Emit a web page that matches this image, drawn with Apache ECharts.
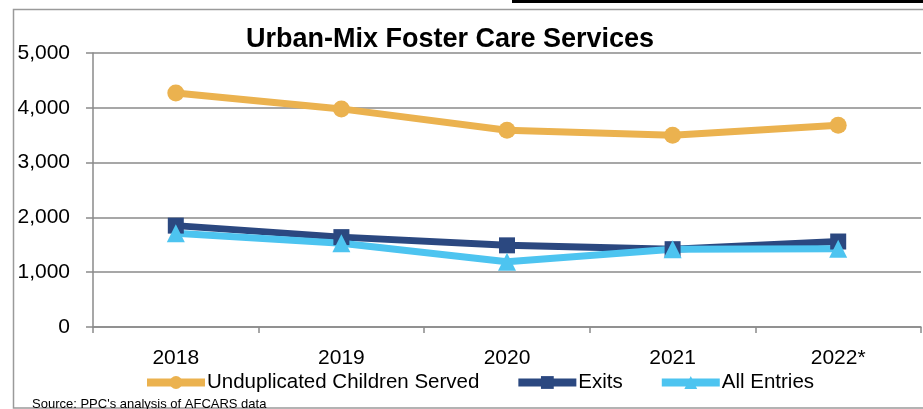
<!DOCTYPE html>
<html>
<head>
<meta charset="utf-8">
<script src="https://cdn.jsdelivr.net/npm/echarts@6/dist/echarts.min.js"></script>
<style>
html,body{margin:0;padding:0;background:#fff;}
#chart{width:923px;height:409px;}
</style>
</head>
<body>
<div id="chart"></div>
<script>
const categories = ['2018', '2019', '2020', '2021', '2022*'];
const unduplicated = [4270, 3980, 3590, 3500, 3680];
const exits = [1850, 1640, 1490, 1420, 1560];
const entries = [1710, 1530, 1190, 1420, 1430];
const yTicks = [0, 1000, 2000, 3000, 4000, 5000];

const FONT = 'Liberation Sans';
const chart = echarts.init(document.getElementById('chart'));
const gridColor = '#8a8a8a';

chart.setOption({
  animation: false,
  backgroundColor: '#fff',
  textStyle: { fontFamily: FONT, color: '#000' },
  title: {
    text: 'Urban-Mix Foster Care Services',
    left: 445, top: 21, textAlign: 'center',
    textStyle: { fontFamily: FONT, fontSize: 27, fontWeight: 'bold', color: '#000' }
  },
  grid: { left: 93, right: 2, top: 53, bottom: 82 },
  legend: {
    left: 138, top: 367,
    itemWidth: 58, itemHeight: 16, itemGap: 35,
    lineStyle: { width: 8 },
    textStyle: { fontFamily: FONT, fontSize: 20.5, color: '#000', padding: [2, 0, 0, -3] },
    data: ['Unduplicated Children Served', 'Exits', 'All Entries']
  },
  xAxis: {
    type: 'category',
    data: categories,
    boundaryGap: true,
    axisLine: { lineStyle: { color: gridColor, width: 1.5 } },
    axisTick: { show: true, length: 6, lineStyle: { color: gridColor, width: 1.5 } },
    axisLabel: { fontFamily: FONT, fontSize: 21, color: '#000', margin: 21 }
  },
  yAxis: {
    type: 'value',
    min: 0, max: 5000, interval: 1000,
    axisLine: { show: true, lineStyle: { color: gridColor, width: 1.5 } },
    axisTick: { show: true, length: 7, lineStyle: { color: gridColor, width: 1.5 } },
    splitLine: { lineStyle: { color: gridColor, width: 1.5 } },
    axisLabel: {
      fontFamily: FONT, fontSize: 21, color: '#000', margin: 23,
      formatter: v => yTicks.includes(v) ? v.toLocaleString('en-US') : ''
    }
  },
  series: [
    {
      name: 'Unduplicated Children Served', type: 'line', data: unduplicated,
      symbol: 'circle', symbolSize: 17,
      itemStyle: { color: '#EBB24F' },
      lineStyle: { color: '#EBB24F', width: 7 }
    },
    {
      name: 'Exits', type: 'line', data: exits,
      symbol: 'rect', symbolSize: 16,
      itemStyle: { color: '#2B4880' },
      lineStyle: { color: '#2B4880', width: 7 }
    },
    {
      name: 'All Entries', type: 'line', data: entries,
      symbol: 'triangle', symbolSize: 18,
      itemStyle: { color: '#4DC4F0' },
      lineStyle: { color: '#4DC4F0', width: 7 }
    }
  ],
  graphic: [
    { type: 'rect', shape: { x: 13.5, y: 9.5, width: 920, height: 398.5 },
      style: { fill: 'none', stroke: '#9a9a9a', lineWidth: 1.5 }, silent: true },
    { type: 'rect', shape: { x: 512, y: 0, width: 411, height: 3 },
      style: { fill: '#000' }, silent: true },
    { type: 'text', left: 32, top: 398,
      style: { text: "Source: PPC's analysis of AFCARS data", font: '13px "Liberation Sans"', fill: '#000' } }
  ]
});
</script>
</body>
</html>
